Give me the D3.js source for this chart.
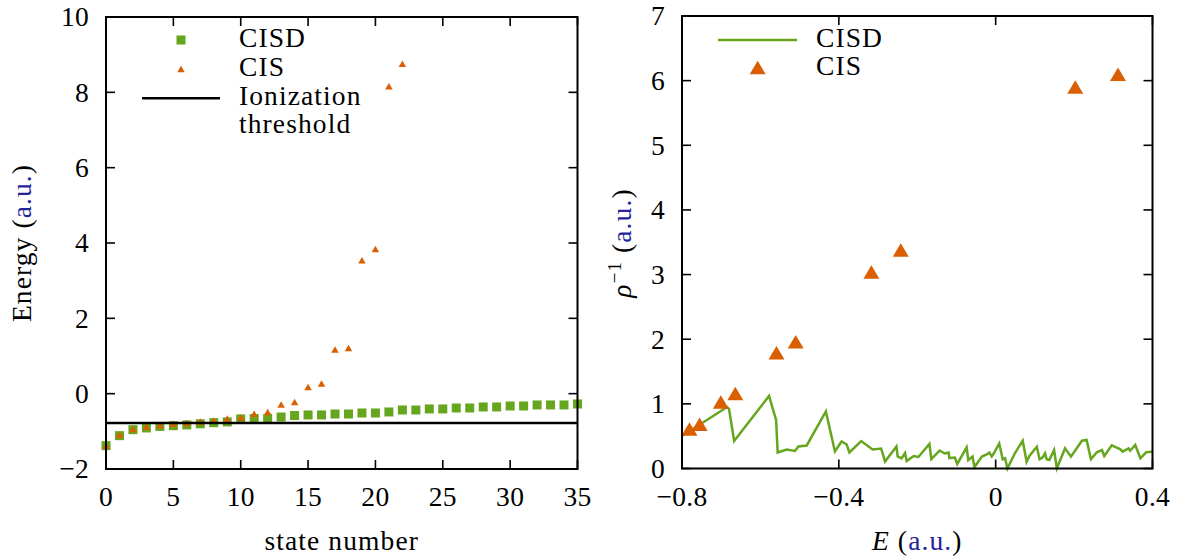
<!DOCTYPE html>
<html>
<head>
<meta charset="utf-8">
<script src="https://cdn.jsdelivr.net/npm/d3@7"></script>
<style>
  html, body { margin: 0; padding: 0; background: #fff; }
  svg { display: block; }
  text { font-family: "Liberation Serif", "Times New Roman", serif; font-size: 27.5px; fill: #000; letter-spacing: 1.1px; }
</style>
</head>
<body>
<svg id="chart" width="1180" height="560"></svg>
<script>
// ---------- data ----------
// Left panel: energies by state number (index = state number)
const cisdEnergy = [-1.38, -1.115, -0.956, -0.91, -0.87, -0.85, -0.83, -0.80, -0.77, -0.75,
  -0.67, -0.66, -0.656, -0.62, -0.58, -0.565, -0.565, -0.54, -0.54, -0.513,
  -0.513, -0.486, -0.433, -0.433, -0.406, -0.406, -0.38, -0.38, -0.353, -0.353,
  -0.327, -0.327, -0.30, -0.30, -0.30, -0.273];
const cisEnergy = [-1.38, -1.09, -0.94, -0.87, -0.84, -0.80, -0.78, -0.74, -0.71, -0.66,
  -0.63, -0.53, -0.49, -0.29, -0.22, 0.18, 0.27, 1.17, 1.21, 3.54,
  3.84, 8.16, 8.76];
const ionizationThreshold = -0.78;
const leftXTicks = [0, 5, 10, 15, 20, 25, 30, 35];
const leftYTicks = [-2, 0, 2, 4, 6, 8, 10];

// Right panel: inverse density of states vs energy
const cisdE = [-0.800, -0.685, -0.680, -0.667, -0.578, -0.560, -0.556, -0.533, -0.512, -0.503,
  -0.482, -0.433, -0.410, -0.393, -0.380, -0.373, -0.343, -0.314, -0.292, -0.282,
  -0.253, -0.250, -0.240, -0.231, -0.227, -0.209, -0.197, -0.169, -0.164, -0.143,
  -0.130, -0.120, -0.118, -0.104, -0.098, -0.074, -0.070, -0.059, -0.054, -0.035,
  -0.023, -0.016, -0.010, -0.005, 0.009, 0.018, 0.024, 0.030, 0.049, 0.069,
  0.079, 0.086, 0.105, 0.112, 0.120, 0.126, 0.130, 0.137, 0.149, 0.156,
  0.177, 0.192, 0.220, 0.232, 0.243, 0.258, 0.271, 0.277, 0.296, 0.318,
  0.324, 0.339, 0.343, 0.356, 0.369, 0.384, 0.399];
const cisdRho = [0.503, 0.951, 0.920, 0.425, 1.122, 0.750, 0.248, 0.294, 0.271, 0.340,
  0.356, 0.882, 0.263, 0.418, 0.371, 0.248, 0.425, 0.294, 0.309, 0.108,
  0.340, 0.186, 0.155, 0.240, 0.116, 0.193, 0.178, 0.379, 0.147, 0.278,
  0.232, 0.248, 0.162, 0.170, 0.070, 0.325, 0.131, 0.186, 0.023, 0.186,
  0.217, 0.248, 0.186, 0.232, 0.387, 0.142, 0.158, 0.000, 0.235, 0.430,
  0.105, 0.193, 0.337, 0.142, 0.173, 0.235, 0.142, 0.131, 0.286, 0.003,
  0.312, 0.183, 0.430, 0.441, 0.142, 0.251, 0.286, 0.193, 0.359, 0.297,
  0.260, 0.312, 0.275, 0.364, 0.158, 0.251, 0.260];
const cisE = [-0.781, -0.755, -0.701, -0.664, -0.559, -0.510, -0.317, -0.242, 0.203, 0.312];
const cisRho = [0.61, 0.685, 1.03, 1.16, 1.79, 1.96, 3.04, 3.38, 5.90, 6.10];
const rightXTicks = [-0.8, -0.4, 0, 0.4];
const rightYTicks = [0, 1, 2, 3, 4, 5, 6, 7];

// ---------- styles ----------
const GREEN = "#66a61e";
const ORANGE = "#d95f02";
const BLUE = "#25259a";
const fmtMinus = s => String(s).replace("-", "\u2212");

const svg = d3.select("#chart");

function tri(w, h) {
  return `M0,${-h/2}L${w/2},${h/2}L${-w/2},${h/2}Z`;
}

function frame(g, x, y, xTicks, yTicks, xFmt, yFmt) {
  const [x0, x1] = x.range();
  const [y0, y1] = y.range(); // y0 bottom, y1 top
  const tl = 9;
  const tg = g.append("g").attr("stroke", "#000").attr("stroke-width", 1.6);
  xTicks.forEach(t => {
    const px = x(t);
    tg.append("line").attr("x1", px).attr("x2", px).attr("y1", y0).attr("y2", y0 - tl);
    tg.append("line").attr("x1", px).attr("x2", px).attr("y1", y1).attr("y2", y1 + tl);
    g.append("text").attr("x", px).attr("y", y0 + 37).attr("text-anchor", "middle")
      .style("letter-spacing", "0.3px").text(xFmt(t));
  });
  yTicks.forEach(t => {
    const py = y(t);
    tg.append("line").attr("x1", x0).attr("x2", x0 + tl).attr("y1", py).attr("y2", py);
    tg.append("line").attr("x1", x1).attr("x2", x1 - tl).attr("y1", py).attr("y2", py);
    g.append("text").attr("x", x0 - 17).attr("y", py).attr("dy", "0.34em").attr("text-anchor", "end")
      .style("letter-spacing", "0.3px").text(yFmt(t));
  });
  g.append("rect").attr("x", x0).attr("y", y1).attr("width", x1 - x0).attr("height", y0 - y1)
    .attr("fill", "none").attr("stroke", "#000").attr("stroke-width", 2);
}

// ---------- left panel ----------
{
  const x = d3.scaleLinear().domain([0, 35]).range([106, 577.5]);
  const y = d3.scaleLinear().domain([-2, 10]).range([469, 17]);
  const g = svg.append("g");

  g.append("g").selectAll("rect").data(cisdEnergy).join("rect")
    .attr("x", (d, i) => x(i) - 4.5).attr("y", d => y(d) - 4.5)
    .attr("width", 9).attr("height", 9).attr("fill", GREEN);

  g.append("g").selectAll("path").data(cisEnergy).join("path")
    .attr("transform", (d, i) => `translate(${x(i)},${y(d)})`)
    .attr("d", tri(7.5, 6.5)).attr("fill", ORANGE);

  g.append("line").attr("x1", x(0)).attr("x2", x(35))
    .attr("y1", y(ionizationThreshold)).attr("y2", y(ionizationThreshold))
    .attr("stroke", "#000").attr("stroke-width", 2.5);

  frame(g, x, y, leftXTicks, leftYTicks, d => fmtMinus(d), d => fmtMinus(d));

  // legend
  const lg = g.append("g");
  lg.append("rect").attr("x", 181 - 4.5).attr("y", 40 - 4.5).attr("width", 9).attr("height", 9).attr("fill", GREEN);
  lg.append("path").attr("transform", "translate(181,69)").attr("d", tri(7.5, 6.5)).attr("fill", ORANGE);
  lg.append("line").attr("x1", 142).attr("x2", 220).attr("y1", 98.3).attr("y2", 98.3)
    .attr("stroke", "#000").attr("stroke-width", 2.5);
  lg.append("text").attr("x", 239).attr("y", 46.7).text("CISD");
  lg.append("text").attr("x", 239).attr("y", 75.7).text("CIS");
  lg.append("text").attr("x", 239).attr("y", 105).text("Ionization");
  lg.append("text").attr("x", 239).attr("y", 133.3).text("threshold");

  // axis titles
  g.append("text").attr("x", (x(0) + x(35)) / 2).attr("y", 550).attr("text-anchor", "middle").text("state number");
  const yt = g.append("text").attr("transform", "translate(31,243) rotate(-90)").attr("text-anchor", "middle");
  yt.append("tspan").text("Energy (");
  yt.append("tspan").style("fill", BLUE).text("a.u.");
  yt.append("tspan").text(")");
}

// ---------- right panel ----------
{
  const x = d3.scaleLinear().domain([-0.8, 0.4]).range([682, 1152.5]);
  const y = d3.scaleLinear().domain([0, 7]).range([468.5, 16]);
  const g = svg.append("g");

  const pts = cisdE.map((e, i) => [e, cisdRho[i]]);
  const line = d3.line().x(d => x(d[0])).y(d => y(d[1]));
  g.append("path").datum(pts).attr("d", line)
    .attr("fill", "none").attr("stroke", GREEN).attr("stroke-width", 2.5).attr("stroke-linejoin", "miter");

  g.append("g").selectAll("path").data(cisE).join("path")
    .attr("transform", (d, i) => `translate(${x(d)},${y(cisRho[i])})`)
    .attr("d", tri(16, 13.5)).attr("fill", ORANGE);

  frame(g, x, y, rightXTicks, rightYTicks, d => fmtMinus(d === 0 ? "0" : d.toFixed(1)), d => String(d));

  // legend
  const lg = g.append("g");
  lg.append("line").attr("x1", 718).attr("x2", 797).attr("y1", 40).attr("y2", 40)
    .attr("stroke", GREEN).attr("stroke-width", 2.5);
  lg.append("path").attr("transform", "translate(757.7,67.5)").attr("d", tri(16, 13.5)).attr("fill", ORANGE);
  lg.append("text").attr("x", 816).attr("y", 46.7).text("CISD");
  lg.append("text").attr("x", 816).attr("y", 75).text("CIS");

  // axis titles
  const xt = g.append("text").attr("x", (x(-0.8) + x(0.4)) / 2).attr("y", 550).attr("text-anchor", "middle");
  xt.append("tspan").attr("font-style", "italic").text("E");
  xt.append("tspan").text(" (");
  xt.append("tspan").style("fill", BLUE).text("a.u.");
  xt.append("tspan").text(")");

  const yt = g.append("text").attr("transform", "translate(631,243) rotate(-90)").attr("text-anchor", "middle");
  yt.append("tspan").attr("font-style", "italic").text("\u03C1");
  yt.append("tspan").attr("font-size", "19px").attr("dy", "-10").text("\u22121");
  yt.append("tspan").attr("dy", "10").text(" (");
  yt.append("tspan").style("fill", BLUE).text("a.u.");
  yt.append("tspan").text(")");
}
</script>
</body>
</html>
